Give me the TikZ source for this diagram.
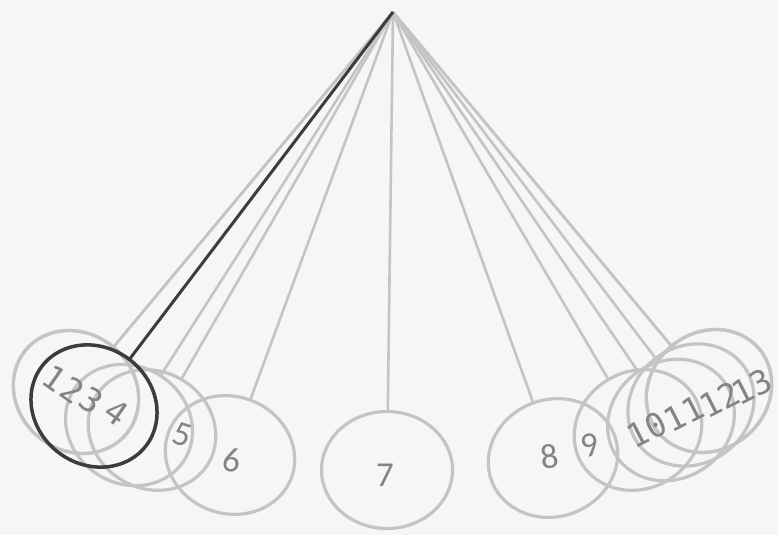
\documentclass[tikz,border=0pt]{standalone}
\usepackage{fontspec}
\usetikzlibrary{shapes.geometric}
\newfontfamily\monof{DejaVu Sans Mono}
\newfontfamily\calf{Carlito}
\definecolor{bgcol}{RGB}{246,246,244}
\definecolor{lightc}{RGB}{196,196,196}
\definecolor{darkc}{RGB}{60,60,60}
\definecolor{labc}{RGB}{132,132,132}
\tikzset{
  bob/.style={ellipse, draw=lightc, line width=3.2pt, minimum width=131pt, minimum height=117pt, inner sep=0pt, outer sep=0pt},
  darkbob/.style={bob, draw=darkc, line width=3.5pt},
  string/.style={draw=lightc, line width=2.6pt},
  darkstring/.style={draw=darkc, line width=3pt},
  monolab/.style={text=labc, font=\monof\fontsize{33}{33}\selectfont, inner sep=0pt},
  callab/.style={text=labc, font=\calf\fontsize{35}{35}\selectfont, inner sep=0pt}
}
\begin{document}
\begin{tikzpicture}[x=1pt,y=-1pt]
\fill[bgcol] (0,0) rectangle (778,535);
\useasboundingbox (0,0) rectangle (778,535);
\coordinate (P) at (393,12);
% bobs (light)
\node[bob, rotate=-40] (b1) at (76,392) {};
\node[bob, rotate=-40] (b2) at (76,392) {};
\node[bob, rotate=-33] (b4) at (129,425) {};
\node[bob, rotate=-30] (b5) at (152,430) {};
\node[bob, rotate=-20] (b6) at (230,455) {};
\node[bob, rotate=0] (b7) at (387,470) {};
\node[bob, rotate=20] (b8) at (553,458) {};
\node[bob, rotate=30] (b9) at (638,430) {};
\node[bob, rotate=34] (b10) at (671,420) {};
\node[bob, rotate=37] (b11) at (691,405) {};
\node[bob, rotate=40] (b12) at (709,391) {};
\node[bob, rotate=40] (b13) at (709,391) {};
% strings (light)
\foreach \b in {b1,b2,b4,b5,b6,b7,b8,b9,b10,b11,b12,b13}
  \draw[string] (P) -- (\b);
% highlighted bob
\node[darkbob, rotate=-37] (b3) at (94,406) {};
\draw[darkstring] (P) -- (b3);
% labels
\node[monolab, rotate=-35] (l1) at (55,378) {1};
\node[monolab, rotate=-35] (l2) at (73,390) {2};
\node[monolab, rotate=-35] (l3) at (92,400) {3};
\node[monolab, rotate=-35] (l4) at (117,412) {4};
\node[callab, rotate=-18] (l5) at (182,435) {5};
\node[callab, rotate=-8] (l6) at (232,460) {6};
\node[callab] (l7) at (385,475) {7};
\node[callab, rotate=8] (l8) at (550,457) {8};
\node[callab, rotate=15] (l9) at (590,445) {9};
\node[monolab, rotate=27] (l10) at (647,430) {10};
\node[monolab, rotate=27] (l11) at (684,414) {11};
\node[monolab, rotate=27] (l12) at (720,400) {12};
\node[monolab, rotate=27] (l13) at (752,387) {13};
\end{tikzpicture}
\end{document}
